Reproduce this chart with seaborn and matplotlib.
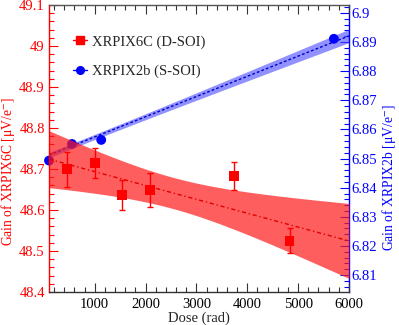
import numpy as np
import pandas as pd
import matplotlib
matplotlib.use("Agg")
import matplotlib.pyplot as plt
from matplotlib.ticker import MultipleLocator
from matplotlib.lines import Line2D
import seaborn as sns

# ---- data ----
red_dose = [454, 1000, 1543, 2090, 3734, 4831]
red_gain = [48.699, 48.714, 48.637, 48.649, 48.683, 48.525]
red_err = [0.042, 0.037, 0.037, 0.041, 0.034, 0.030]

blue_dose = [100, 552, 1127, 5703]
blue_gain = [6.8493, 6.855, 6.8564, 6.8911]

# linear fits (intercept at dose 0, slope per rad) and confidence band params
red_fit = (48.7274, -3.381e-5)
red_band = (0.00145, 5.735e-10, 2527)   # hw^2 = A + B (x - m)^2
blue_fit = (6.8505, 6.932e-6)
blue_band = (0.79e-6, 1.6e-13, 700)

xlim = (100, 6000)
left_ylim = (48.4, 49.1)
right_ylim = (6.8042, 6.9027)
x_ticks = [1000, 2000, 3000, 4000, 5000, 6000]

red_label = "XRPIX6C (D-SOI)"
blue_label = "XRPIX2b (S-SOI)"

sns.set_theme(style="ticks")
plt.rcParams["font.family"] = ["Liberation Serif", "DejaVu Serif"]
plt.rcParams["mathtext.fontset"] = "stix"

fig = plt.figure(figsize=(3.99, 3.25), dpi=100)
ax = fig.add_axes([49 / 399, 33 / 325, 300 / 399, 287 / 325])
ax2 = ax.twinx()

xs = np.linspace(xlim[0], xlim[1], 300)

# red band + fit
rc = red_fit[0] + red_fit[1] * xs
rhw = np.sqrt(red_band[0] + red_band[1] * (xs - red_band[2]) ** 2)
ax.fill_between(xs, rc - rhw, rc + rhw, color="#ff1a1a", alpha=0.7, lw=0, zorder=1)
ax.plot(xs, rc, color="#e00000", lw=1.0, ls=(0, (3, 2, 1, 2)), zorder=2)

# blue band + fit
bc = blue_fit[0] + blue_fit[1] * xs
bhw = np.sqrt(blue_band[0] + blue_band[1] * (xs - blue_band[2]) ** 2)
ax2.fill_between(xs, bc - bhw, bc + bhw, color="#4a4aff", alpha=0.6, lw=0, zorder=1)
ax2.plot(xs, bc, color="#0000cc", lw=1.0, ls=(0, (2, 1.5)), zorder=2)

# red points with error bars
red_df = pd.DataFrame({"dose": red_dose, "gain": red_gain, "err": red_err})
ax.errorbar(red_df["dose"], red_df["gain"], yerr=red_df["err"], fmt="none",
            ecolor="red", elinewidth=1.0, capsize=2.5, capthick=1.0, zorder=3)
sns.scatterplot(data=red_df, x="dose", y="gain", ax=ax, marker="s", s=50,
                color="red", edgecolor="none", zorder=4, legend=False)

blue_df = pd.DataFrame({"dose": blue_dose, "gain": blue_gain})
sns.scatterplot(data=blue_df, x="dose", y="gain", ax=ax2, marker="o", s=50,
                color="blue", edgecolor="none", zorder=4, legend=False,
                clip_on=False)

ax.set_xlim(*xlim)
ax.set_ylim(*left_ylim)
ax2.set_ylim(*right_ylim)

fs = 10.5
ax.set_xticks(x_ticks)
ax.xaxis.set_minor_locator(MultipleLocator(200))
ax.yaxis.set_major_locator(MultipleLocator(0.1))
ax.yaxis.set_minor_locator(MultipleLocator(0.02))
ax2.yaxis.set_major_locator(MultipleLocator(0.01))
ax2.yaxis.set_minor_locator(MultipleLocator(0.002))
ax.yaxis.set_major_formatter(plt.FuncFormatter(lambda v, p: f"{v:g}"))
ax2.yaxis.set_major_formatter(plt.FuncFormatter(lambda v, p: f"{v:g}"))

ax.tick_params(axis="x", which="both", direction="in", top=True, bottom=True,
               colors="#333333", labelcolor="black", labelsize=fs, pad=4)
ax.tick_params(axis="x", which="major", length=6.5, width=0.8)
ax.tick_params(axis="x", which="minor", length=3.5, width=0.8)
ax.tick_params(axis="y", which="both", direction="in", colors="red",
               labelcolor="red", labelsize=fs, pad=3)
ax.tick_params(axis="y", which="major", length=6.5, width=0.8)
ax.tick_params(axis="y", which="minor", length=3.5, width=0.8)
ax2.tick_params(axis="y", which="both", direction="in", colors="blue",
                labelcolor="blue", labelsize=fs, pad=2)
ax2.tick_params(axis="y", which="major", length=6.5, width=0.8)
ax2.tick_params(axis="y", which="minor", length=3.5, width=0.8)

for a in (ax, ax2):
    for s in a.spines.values():
        s.set_linewidth(1.0)
ax.spines["left"].set_color("red")
ax.spines["bottom"].set_color("#333333")
ax.spines["top"].set_color("#555555")
ax.spines["right"].set_visible(False)
ax2.spines["right"].set_color("blue")
ax2.spines["left"].set_visible(False)
ax2.spines["top"].set_visible(False)
ax2.spines["bottom"].set_visible(False)

lfs = 9.8
ax.set_xlabel("Dose (rad)", fontsize=fs, labelpad=1)
ax.set_ylabel(r"Gain of XRPIX6C [$\mathregular{\mu}$V/e$^{-}$]", color="red", fontsize=lfs)
ax2.set_ylabel(r"Gain of XRPIX2b [$\mathregular{\mu}$V/e$^{-}$]", color="blue", fontsize=lfs)
ax.yaxis.set_label_coords(-0.108, 0.42)
ax2.yaxis.set_label_coords(1.103, 0.40)

handles = [
    Line2D([], [], color="red", marker="s", markersize=5.5, lw=1.0),
    Line2D([], [], color="blue", marker="o", markersize=5.5, lw=1.0),
]
ax.legend(handles, [red_label, blue_label], loc="upper left",
          bbox_to_anchor=(0.06, 0.915), frameon=False, fontsize=fs,
          handlelength=1.0, handletextpad=0.3, labelspacing=1.1,
          borderaxespad=0)

ax.set_zorder(2)
ax2.set_zorder(1)
ax.patch.set_visible(False)
ax2.patch.set_visible(True)
ax2.patch.set_facecolor("white")

fig.savefig("out.png", dpi=100)
